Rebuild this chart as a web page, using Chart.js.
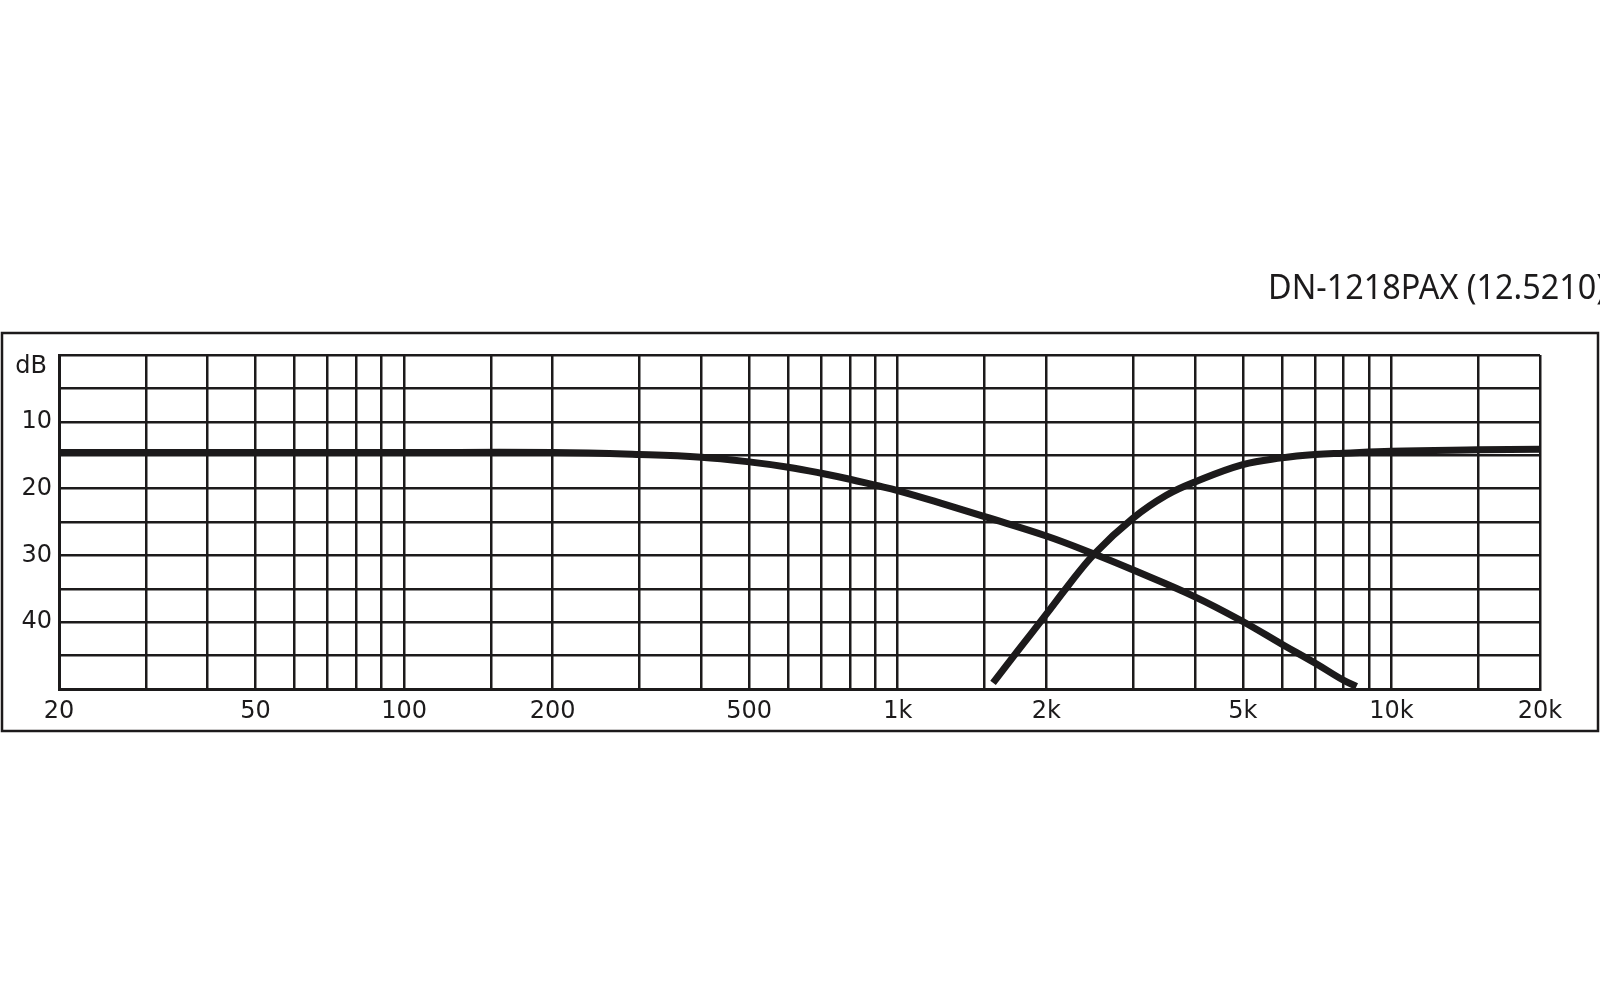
<!DOCTYPE html>
<html>
<head>
<meta charset="utf-8">
<title>DN-1218PAX (12.5210)</title>
<script src="https://cdn.jsdelivr.net/npm/chart.js@4"></script>
<style>
  html, body { margin: 0; padding: 0; background: #fff; }
  canvas { display: block; }
</style>
</head>
<body>
<canvas id="response" width="1600" height="1007"></canvas>
<script>
const chartTitle = "DN-1218PAX (12.5210)";

// grid lines on the frequency axis (Hz)
const gridFreqs = [20, 30, 40, 50, 60, 70, 80, 90, 100, 150, 200, 300, 400, 500, 600, 700, 800, 900,
  1000, 1500, 2000, 3000, 4000, 5000, 6000, 7000, 8000, 9000, 10000, 15000, 20000];
const labelFreqs = [20, 50, 100, 200, 500, 1000, 2000, 5000, 10000, 20000];
const labelTexts = ["20", "50", "100", "200", "500", "1k", "2k", "5k", "10k", "20k"];

// level axis (dB, drawn downwards)
const dbLabels = [10, 20, 30, 40];

// low-pass branch
const lowFreq = [20, 50, 100, 200, 300, 400, 500, 600, 700, 800, 900, 1000, 1250, 1500, 2000, 2500,
  3000, 4000, 5000, 6000, 7000, 8000, 8500];
const lowDb = [14.6, 14.6, 14.6, 14.6, 14.9, 15.3, 16.0, 16.8, 17.7, 18.6, 19.5, 20.3, 22.4, 24.2, 27.1, 29.8,
  32.2, 36.2, 39.9, 43.3, 46.1, 48.7, 49.6];

// high-pass branch
const highFreq = [1560, 1750, 2000, 2200, 2500, 3000, 3500, 4000, 5000, 6000, 7000, 8000, 10000, 15000, 20000];
const highDb = [49.1, 44.3, 38.8, 34.8, 29.8, 24.4, 21.0, 19.0, 16.4, 15.4, 14.9, 14.7, 14.4, 14.2, 14.1];

const ink = "#1c1a1b";

const toPoints = (xs, ys) => xs.map((x, i) => ({ x: x, y: ys[i] }));

// white page, outer frame, title and the "dB" unit
const framePlugin = {
  id: "frame",
  beforeDraw(chart) {
    const ctx = chart.ctx;
    ctx.save();
    ctx.fillStyle = "#fff";
    ctx.fillRect(0, 0, chart.width, chart.height);
    ctx.strokeStyle = ink;
    ctx.lineWidth = 2.5;
    ctx.strokeRect(2, 333, 1596, 398);
    ctx.restore();
  },
  afterDraw(chart) {
    const ctx = chart.ctx;
    const y = chart.scales.y;
    ctx.save();
    ctx.fillStyle = ink;
    ctx.font = "35px 'Noto Sans'";
    ctx.textBaseline = "middle";
    ctx.textAlign = "left";
    // the title is squeezed a little, like the printed original
    const w = ctx.measureText(chartTitle).width;
    ctx.translate(1268, 289);
    ctx.scale(338 / w, 1);
    ctx.fillText(chartTitle, 0, 0);
    ctx.restore();

    ctx.save();
    ctx.fillStyle = ink;
    ctx.font = "24px 'DejaVu Sans'";
    ctx.textBaseline = "middle";
    ctx.textAlign = "right";
    ctx.fillText("dB", 47, y.getPixelForValue(1.8));
    ctx.restore();
  }
};

new Chart(document.getElementById("response"), {
  type: "line",
  data: {
    datasets: [
      {
        label: "Low",
        data: toPoints(lowFreq, lowDb),
        borderColor: ink,
        borderWidth: 7,
        pointRadius: 0,
        tension: 0.4,
        fill: false,
      },
      {
        label: "High",
        data: toPoints(highFreq, highDb),
        borderColor: ink,
        borderWidth: 7,
        pointRadius: 0,
        tension: 0.4,
        fill: false,
      },
    ],
  },
  options: {
    responsive: false,
    animation: false,
    layout: { padding: { top: 355, right: 60, bottom: 278, left: 0 } },
    plugins: {
      legend: { display: false },
      tooltip: { enabled: false },
    },
    scales: {
      x: {
        type: "logarithmic",
        min: 20,
        max: 20000,
        afterBuildTicks: (scale) => {
          scale.ticks = gridFreqs.map((v) => ({ value: v }));
        },
        afterFit: (scale) => {
          scale.height = 40;
        },
        grid: { color: ink, lineWidth: 2.5, drawTicks: false },
        border: { color: ink, width: 3 },
        ticks: {
          autoSkip: false,
          maxRotation: 0,
          padding: 8,
          color: ink,
          font: { family: "'DejaVu Sans'", size: 24 },
          callback: (value) => {
            const i = labelFreqs.indexOf(value);
            return i >= 0 ? labelTexts[i] : "";
          },
        },
      },
      y: {
        type: "linear",
        reverse: true,
        min: 0,
        max: 50,
        afterFit: (scale) => {
          scale.width = 59;
        },
        grid: { color: ink, lineWidth: 2.5, drawTicks: false },
        border: { color: ink, width: 3 },
        ticks: {
          stepSize: 5,
          padding: 7,
          color: ink,
          font: { family: "'DejaVu Sans'", size: 24 },
          callback: (value) => (dbLabels.includes(value) ? String(value) : ""),
        },
      },
    },
  },
  plugins: [framePlugin],
});
</script>
</body>
</html>
